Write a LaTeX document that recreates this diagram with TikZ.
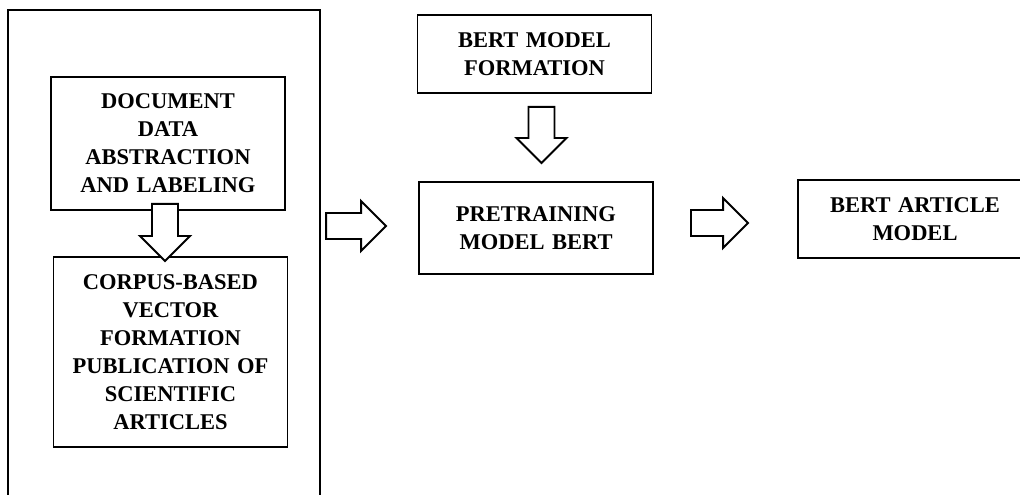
\documentclass[tikz,border=0pt]{standalone}
\usepackage{fontspec}
\setmainfont{Liberation Serif}
\usetikzlibrary{calc, positioning}

\begin{document}
\begin{tikzpicture}[x=1pt, y=1pt,
  box/.style={draw, line width=1.9pt, align=center, inner sep=0pt,
    text width=226pt, minimum width=234pt,
    font=\fontsize{22.5}{28}\selectfont\bfseries},
  arrowbody/.style={draw, fill=white, line width=1.9pt, line join=miter}]

% Sizes of the hollow arrows
\def\shafthw{13}
\def\headhw{25}
\def\headlen{25}

% Hollow block arrow from one named coordinate to another
\def\hollowarrow#1#2{%
  \draw[arrowbody] let \p1=($(#2)-(#1)$), \n1={veclen(\x1,\y1)},
      \n2={atan2(\y1,\x1)} in
    [shift={(#1)}, rotate=\n2]
    (0,-\shafthw) -- (\n1-\headlen,-\shafthw) -- (\n1-\headlen,-\headhw)
    -- (\n1,0) -- (\n1-\headlen,\headhw) -- (\n1-\headlen,\shafthw)
    -- (0,\shafthw) -- cycle;}

\useasboundingbox (0,0) rectangle (1020,495);
\clip (0,0) rectangle (1020,495);

% --- Left Panel: document preparation ---
\node[draw, line width=1.6pt, minimum width=312pt, minimum height=500pt,
  inner sep=0pt] (outer) at (164,235) {};
\node[box, minimum height=133pt] (doc) at (168,351.5)
  {DOCUMENT\\DATA\\ABSTRACTION\\AND LABELING};
\node[box, minimum height=190pt] (corpus) at (170.5,143)
  {CORPUS-BASED\\VECTOR\\FORMATION\\PUBLICATION OF\\SCIENTIFIC\\ARTICLES};

% --- Middle Panel: BERT ---
\node[box, minimum height=78pt] (bertform) at (534.5,441)
  {BERT MODEL\\FORMATION};
\node[box, minimum height=92pt] (pretrain) at (536,267)
  {PRETRAINING\\MODEL BERT};

% --- Right Panel: result ---
\node[box, minimum height=78pt] (article) at (915,276)
  {BERT ARTICLE\\MODEL};

% Arrow ends
\coordinate (docS)    at ([shift={(-3,7)}]doc.south);
\coordinate (corpusN) at ([shift={(-5.5,-5)}]corpus.north);
\coordinate (formS)   at ([shift={(7,-13)}]bertform.south);
\coordinate (preN)    at ([shift={(5.5,18)}]pretrain.north);
\coordinate (outerE)  at ([shift={(-92,2)}]pretrain.west);
\coordinate (preW)    at ([shift={(-32,2)}]pretrain.west);
\coordinate (preE)    at ([shift={(37,5)}]pretrain.east);
\coordinate (artW)    at ([shift={(-49,-4)}]article.west);

% Arrows
\hollowarrow{docS}{corpusN}
\hollowarrow{formS}{preN}
\hollowarrow{outerE}{preW}
\hollowarrow{preE}{artW}

\end{tikzpicture}
\end{document}
